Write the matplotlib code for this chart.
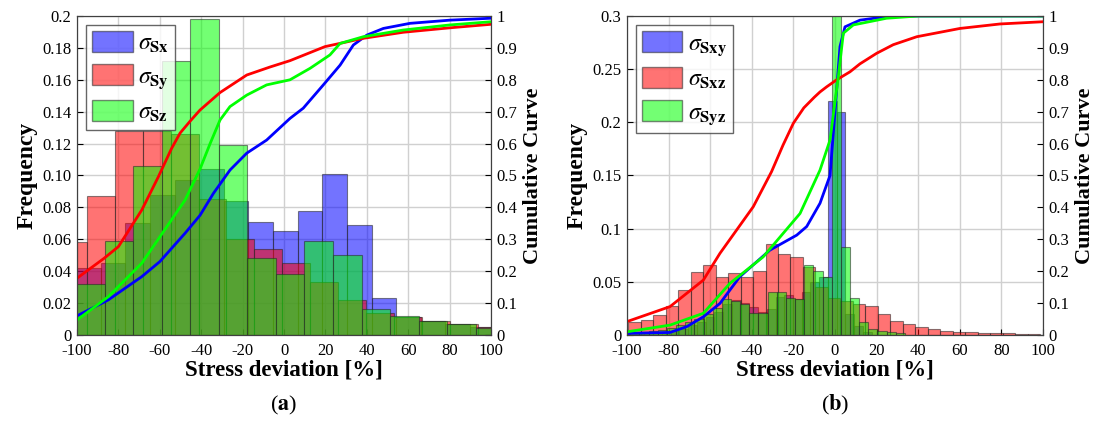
import matplotlib.pyplot as plt
import numpy as np

# ---- panel (a): normal stress deviations ----
sx_edges = [-100.5, -88.6, -76.7, -64.8, -52.9, -41.0, -29.1, -17.2, -5.3, 6.6,
            18.5, 30.4, 42.3, 54.2, 66.1, 78.0, 89.9, 101.8]
sx_freq = [0.042, 0.045, 0.070, 0.088, 0.097, 0.104, 0.084, 0.071, 0.065, 0.078,
           0.101, 0.069, 0.023, 0.011, 0.009, 0.007, 0.005]

sy_edges = [-108.8, -95.3, -81.8, -68.3, -54.8, -41.3, -27.8, -14.3, -0.8, 12.7,
            26.2, 39.7, 53.2, 66.7, 80.2, 93.7, 107.2]
sy_freq = [0.058, 0.087, 0.128, 0.128, 0.126, 0.085, 0.060, 0.054, 0.045, 0.033,
           0.022, 0.014, 0.011, 0.009, 0.007, 0.005]

sz_edges = [-100.5, -86.7, -72.9, -59.1, -45.3, -31.5, -17.7, -3.9, 9.9, 23.7,
            37.5, 51.3, 65.1, 78.9, 92.7, 106.5]
sz_freq = [0.032, 0.059, 0.106, 0.172, 0.198, 0.119, 0.048, 0.038, 0.059, 0.050,
           0.016, 0.012, 0.009, 0.007, 0.0045]

sx_cdf_x = [-100, -84.9, -68.7, -60, -47.8, -40.6, -34.1, -26.1, -18, -8.4, 2.9,
            9.3, 19.0, 27.1, 33.5, 40.0, 48.0, 60.9, 80.2, 100]
sx_cdf = [0.060, 0.110, 0.183, 0.230, 0.319, 0.375, 0.444, 0.517, 0.570, 0.611,
          0.679, 0.711, 0.784, 0.846, 0.909, 0.940, 0.961, 0.977, 0.987, 0.993]
sy_cdf_x = [-100, -87, -80, -68.7, -60.7, -54.3, -50.2, -45.4, -40.6, -30.9, -18,
            -6.8, 2.9, 19.8, 38.3, 57.6, 80.2, 100]
sy_cdf = [0.178, 0.240, 0.277, 0.392, 0.496, 0.585, 0.633, 0.670, 0.705, 0.760,
          0.815, 0.840, 0.860, 0.904, 0.930, 0.949, 0.963, 0.974]
sz_cdf_x = [-100, -84.9, -68.7, -47.8, -40.6, -35.7, -30.9, -26.1, -18, -8.4, 2.9,
            12.6, 22.2, 27.1, 38.3, 57.6, 80.2, 100]
sz_cdf = [0.047, 0.120, 0.225, 0.423, 0.520, 0.600, 0.674, 0.716, 0.752, 0.784,
          0.800, 0.836, 0.878, 0.914, 0.935, 0.956, 0.972, 0.982]

# ---- panel (b): shear stress deviations ----
sxy_edges = [-100.0, -95.8, -91.6, -87.4, -83.2, -79.0, -74.8, -70.6, -66.4, -62.2,
             -58.0, -53.8, -49.6, -45.4, -41.2, -37.0, -32.8, -28.6, -24.4, -20.2,
             -16.0, -11.8, -7.6, -3.4, 0.8, 5.0, 9.2, 13.4, 17.6]
sxy_freq = [0.001, 0.001, 0.002, 0.002, 0.003, 0.004, 0.006, 0.009, 0.012, 0.017,
            0.022, 0.029, 0.033, 0.030, 0.026, 0.022, 0.024, 0.036, 0.038, 0.034,
            0.040, 0.050, 0.055, 0.220, 0.210, 0.020, 0.008, 0.003]

sxz_edges = [-99.4, -93.4, -87.4, -81.4, -75.4, -69.4, -63.4, -57.4, -51.4, -45.4,
             -39.4, -33.4, -27.4, -21.4, -15.4, -9.4, -3.4, 2.6, 8.6, 14.6, 20.6,
             26.6, 32.6, 38.6, 44.6, 50.6, 56.6, 62.6, 68.6, 74.6, 80.6, 86.6,
             92.6, 98.6]
sxz_freq = [0.012, 0.014, 0.019, 0.027, 0.042, 0.059, 0.066, 0.055, 0.058, 0.055,
            0.060, 0.086, 0.076, 0.073, 0.064, 0.045, 0.035, 0.032, 0.029, 0.027,
            0.020, 0.0135, 0.010, 0.0078, 0.0056, 0.004, 0.003, 0.0025, 0.002,
            0.0018, 0.0015, 0.0012, 0.001]

syz_edges = [-98.4, -94.0, -89.6, -85.2, -80.8, -76.4, -72.0, -67.6, -63.2, -58.8,
             -54.4, -50.0, -45.6, -41.2, -36.8, -32.4, -28.0, -23.6, -19.2, -14.8,
             -10.4, -6.0, -1.6, 2.8, 7.2, 11.6, 16.0, 20.4, 24.8, 29.2, 33.6]
syz_freq = [0.002, 0.003, 0.004, 0.005, 0.007, 0.009, 0.012, 0.015, 0.020, 0.025,
            0.034, 0.032, 0.029, 0.021, 0.021, 0.040, 0.040, 0.035, 0.034, 0.066,
            0.060, 0.055, 0.320, 0.083, 0.035, 0.012, 0.006, 0.004, 0.003, 0.002]

sxy_cdf_x = [-100, -79.3, -71.3, -63.3, -55.3, -45.7, -31.3, -18.4, -13.6, -7.2,
             -2.4, 0.0, 2.4, 4.8, 12.0, 24.8, 40, 100]
sxy_cdf = [0.005, 0.008, 0.026, 0.057, 0.099, 0.183, 0.266, 0.313, 0.340, 0.413,
           0.500, 0.700, 0.904, 0.966, 0.987, 0.998, 1.0, 1.0]
sxz_cdf_x = [-100, -79.3, -63.3, -55.3, -39.3, -30.5, -25, -20, -15, -10, -7.2,
             -4, 0.8, 7.2, 12, 20, 28, 39.3, 60.1, 79.3, 100]
sxz_cdf = [0.042, 0.089, 0.172, 0.256, 0.402, 0.512, 0.595, 0.664, 0.712, 0.745,
           0.762, 0.778, 0.800, 0.825, 0.850, 0.883, 0.910, 0.935, 0.961, 0.975, 0.982]
syz_cdf_x = [-100, -79.3, -63.3, -50.5, -34.5, -16.8, -7.2, -2.4, 1.6, 4.0, 8.8,
             24.8, 40, 100]
syz_cdf = [0.010, 0.031, 0.068, 0.162, 0.245, 0.381, 0.517, 0.611, 0.810, 0.946,
           0.972, 0.993, 1.0, 1.0]

plt.rcParams['font.family'] = 'Liberation Serif'
plt.rcParams['mathtext.fontset'] = 'stix'
plt.rcParams['axes.unicode_minus'] = False

fig = plt.figure(figsize=(10.94, 4.21), dpi=100)
ax_a = fig.add_axes([0.0704, 0.2043, 0.3784, 0.7577])
ax_b = fig.add_axes([0.5731, 0.2043, 0.3803, 0.7577])


def draw_hist(ax, edges, freq, color):
    edges = np.asarray(edges)
    ax.bar(edges[:-1], freq, width=np.diff(edges), align='edge', color=color,
           alpha=0.55, edgecolor=(0.15, 0.15, 0.15, 0.8), linewidth=0.8, zorder=2)


def panel(ax, hists, cdfs, labels, ymax, yticks, ytick_labels, tag):
    for edges, freq, color in hists:
        draw_hist(ax, edges, freq, color)
    ax.set_xlim(-100, 100)
    ax.set_ylim(0, ymax)
    ax.set_xticks(np.arange(-100, 101, 20))
    ax.set_yticks(yticks)
    ax.set_yticklabels(ytick_labels)
    ax.grid(True, color='#d0d0d0', linewidth=1.0, zorder=0)
    ax.set_axisbelow(True)
    ax.tick_params(direction='in', labelsize=12, length=4, pad=4)
    ax.tick_params(axis='x', pad=6)
    ax.set_xlabel('Stress deviation [%]', fontsize=16.5, fontweight='bold', labelpad=0)
    ax.set_ylabel('Frequency', fontsize=17, fontweight='bold', labelpad=3)
    for s in ax.spines.values():
        s.set_color('#404040')

    ax2 = ax.twinx()
    for x, y, color in cdfs:
        ax2.plot(x, y, color=color, linewidth=2.0)
    ax2.set_ylim(0, 1)
    ax2.set_yticks(np.arange(0, 1.01, 0.1))
    ax2.set_yticklabels(['0'] + ['%.1f' % v for v in np.arange(0.1, 0.95, 0.1)] + ['1'])
    ax2.tick_params(direction='in', labelsize=12, length=4, pad=4)
    ax2.set_ylabel('Cumulative Curve', fontsize=16, fontweight='bold', labelpad=4)
    for s in ax2.spines.values():
        s.set_color('#404040')

    handles = [plt.Rectangle((0, 0), 1, 1, facecolor=c, alpha=0.55,
                             edgecolor=(0.15, 0.15, 0.15)) for _, _, c in hists]
    leg = ax2.legend(handles, labels, loc='upper left', fontsize=17,
                     bbox_to_anchor=(0.0, 1.0), borderaxespad=0.4,
                     handlelength=1.7, handleheight=0.95, labelspacing=0.4,
                     handletextpad=0.25, borderpad=0.25, fancybox=False)
    leg.get_frame().set_edgecolor('#404040')
    leg.get_frame().set_linewidth(1.0)

    ax.text(0.5, -0.22, tag, transform=ax.transAxes, ha='center', va='center',
            fontsize=16)


blue, red, green = (0, 0, 1), (1, 0, 0), (0, 1, 0)

panel(ax_a,
      [(sx_edges, sx_freq, blue), (sy_edges, sy_freq, red), (sz_edges, sz_freq, green)],
      [(sx_cdf_x, sx_cdf, blue), (sy_cdf_x, sy_cdf, red), (sz_cdf_x, sz_cdf, green)],
      [r'$\sigma_{\mathbf{Sx}}$', r'$\sigma_{\mathbf{Sy}}$', r'$\sigma_{\mathbf{Sz}}$'],
      0.2, np.arange(0, 0.201, 0.02),
      ['0'] + ['%.2f' % v for v in np.arange(0.02, 0.19, 0.02)] + ['0.2'],
      r'($\mathbf{a}$)')

panel(ax_b,
      [(sxy_edges, sxy_freq, blue), (sxz_edges, sxz_freq, red), (syz_edges, syz_freq, green)],
      [(sxy_cdf_x, sxy_cdf, blue), (sxz_cdf_x, sxz_cdf, red), (syz_cdf_x, syz_cdf, green)],
      [r'$\sigma_{\mathbf{Sxy}}$', r'$\sigma_{\mathbf{Sxz}}$', r'$\sigma_{\mathbf{Syz}}$'],
      0.3, np.arange(0, 0.301, 0.05),
      ['0', '0.05', '0.1', '0.15', '0.2', '0.25', '0.3'],
      r'($\mathbf{b}$)')

fig.savefig('out.png', dpi=100)
